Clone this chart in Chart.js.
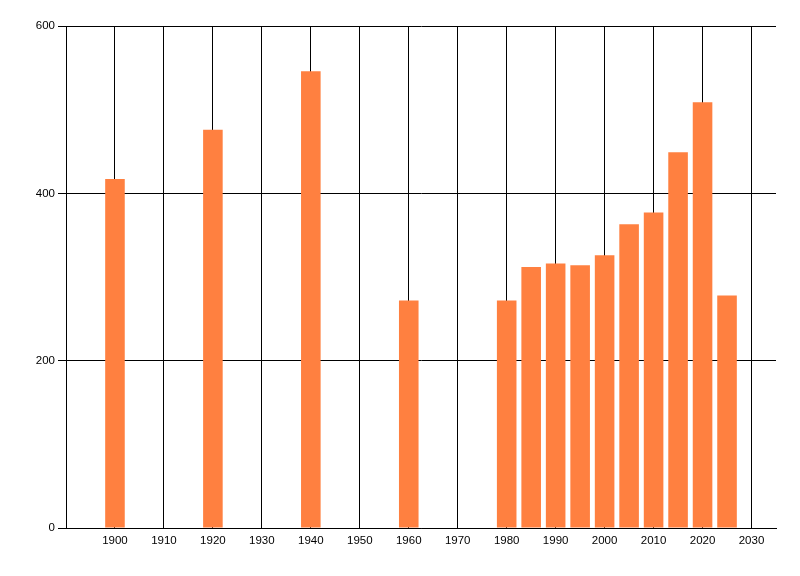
<!DOCTYPE html>
<html>
<head>
<meta charset="utf-8">
<script src="https://cdn.jsdelivr.net/npm/chart.js@4/dist/chart.umd.min.js"></script>
<style>
  html, body { margin: 0; padding: 0; background: #fff; }
  #wrap { width: 800px; height: 576px; }
</style>
</head>
<body>
<div id="wrap"><canvas id="chart"></canvas></div>
<script>
const YEARS = [1900, 1920, 1940, 1960, 1980, 1985, 1990, 1995, 2000, 2005, 2010, 2015, 2020, 2025];
const VALUES = [417, 476, 546, 272, 272, 312, 316, 314, 326, 363, 377, 449, 509, 278];
const X_TICKS = [1900, 1910, 1920, 1930, 1940, 1950, 1960, 1970, 1980, 1990, 2000, 2010, 2020, 2030];
const Y_TICKS = [0, 200, 400, 600];

const BAR_COLOR = 'rgb(255, 128, 64)';
const FONT = {family: "'Liberation Sans', Arial, sans-serif", size: 11.5};

const ctx = document.getElementById('chart');
new Chart(ctx, {
  type: 'bar',
  data: {
    datasets: [{
      data: YEARS.map((x, i) => ({x, y: VALUES[i]})),
      backgroundColor: BAR_COLOR,
      borderWidth: 0,
      categoryPercentage: 1,
      barPercentage: 0.8,
    }]
  },
  options: {
    responsive: true,
    maintainAspectRatio: false,
    animation: false,
    layout: {padding: {top: 26, right: 24, left: 0, bottom: 0}},
    plugins: {legend: {display: false}, tooltip: {enabled: false}},
    scales: {
      x: {
        type: 'linear',
        min: 1890,
        max: 2035,
        offset: false,
        afterBuildTicks: (axis) => { axis.ticks = X_TICKS.map(v => ({value: v})); },
        afterFit: (axis) => { axis.height = 48; },
        grid: {color: '#000', lineWidth: 1, drawTicks: false, offset: false},
        border: {color: '#000', width: 1},
        ticks: {color: '#000', font: FONT, padding: 6, maxRotation: 0, autoSkip: false, callback: v => String(v)},
      },
      y: {
        min: 0,
        max: 600,
        afterBuildTicks: (axis) => { axis.ticks = Y_TICKS.map(v => ({value: v})); },
        afterFit: (axis) => { axis.width = 66; },
        grid: {color: '#000', lineWidth: 1, drawTicks: true, tickLength: 8},
        border: {color: '#000', width: 1},
        ticks: {color: '#000', font: FONT, padding: 3},
      }
    }
  }
});
</script>
</body>
</html>
